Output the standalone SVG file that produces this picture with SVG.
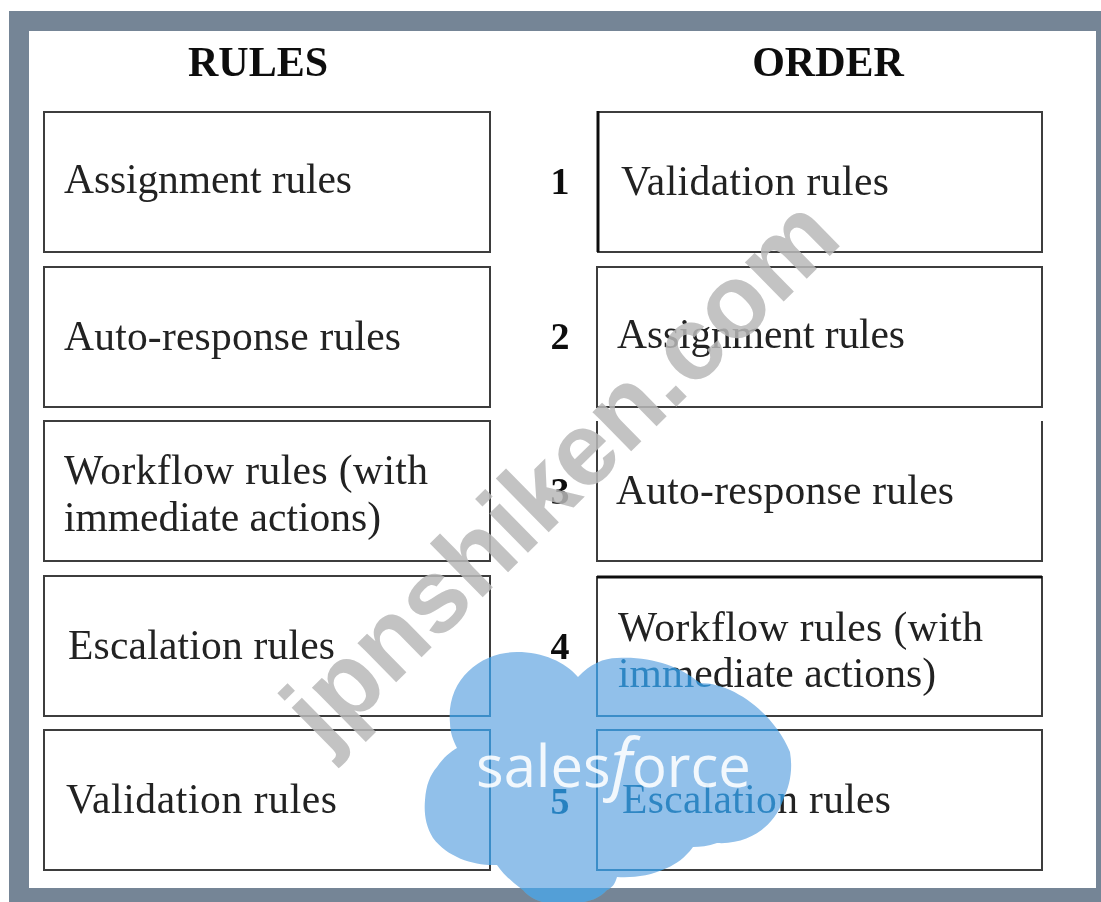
<svg xmlns="http://www.w3.org/2000/svg" width="1101" height="902" viewBox="0 0 1101 902">
<style>
.box{fill:none;stroke:#3c3c3c;stroke-width:2}
.heavy{fill:none;stroke:#111;stroke-width:3}
.t{font-family:"Liberation Serif","Times New Roman",serif;font-size:41.5px;fill:#222}
.h{font-family:"Liberation Serif","Times New Roman",serif;font-size:42px;font-weight:bold;fill:#111}
.n{font-family:"Liberation Serif","Times New Roman",serif;font-size:38px;font-weight:bold;fill:#111}
</style>
<defs>
<filter id="soft" x="0" y="0" width="100%" height="100%"><feGaussianBlur stdDeviation="0.55"/></filter>
<path id="cloud" d="M450 723 C446 680 480 652 517 652 C543 652 565 662 578 677 C590 664 604 658 617 658 C650 656 680 666 700 683 C735 683 775 715 790 752 C793 770 790 785 783 800 C775 825 750 845 717 843 C708 846 700 847 693 847 C685 858 676 864 667 868 C650 876 633 878 617 877 C615 884 612 888 607 890 C600 898 590 902 575 903 L545 903 C535 900 528 896 523 890 C512 882 503 874 497 865 C475 866 448 858 433 838 C425 825 424 812 425 800 C426 785 430 775 437 767 C443 758 450 752 457 748 C453 740 450 732 450 723Z"/>
</defs>
<g filter="url(#soft)">
<rect width="1101" height="902" fill="#fff"/>
<path fill-rule="evenodd" d="M9 11H1101V902H9Z M29 31V888H1096V31Z" fill="#748596"/>
<text class="h" x="258" y="76" text-anchor="middle">RULES</text>
<text class="h" x="828" y="76" text-anchor="middle">ORDER</text>
<g id="rule-1"><rect class="box" x="44" y="112" width="446" height="140"/><text class="t" x="64" y="193" textLength="288">Assignment rules</text></g>
<g id="rule-2"><rect class="box" x="44" y="267" width="446" height="140"/><text class="t" x="64" y="350" textLength="337">Auto-response rules</text></g>
<g id="rule-3"><rect class="box" x="44" y="421" width="446" height="140"/><text class="t" x="64" y="484" textLength="364">Workflow rules (with</text><text class="t" x="64" y="531" textLength="317">immediate actions)</text></g>
<g id="rule-4"><rect class="box" x="44" y="576" width="446" height="140"/><text class="t" x="68" y="659" textLength="267">Escalation rules</text></g>
<g id="rule-5"><rect class="box" x="44" y="730" width="446" height="140"/><text class="t" x="66" y="813" textLength="271">Validation rules</text></g>
<g id="order-1"><rect class="box" x="598" y="112" width="444" height="140"/><path class="heavy" d="M598 111V252"/><text class="n" x="560" y="194" text-anchor="middle">1</text><text class="t" x="621" y="195" textLength="268">Validation rules</text></g>
<g id="order-2"><rect class="box" x="597" y="267" width="445" height="140"/><text class="n" x="560" y="349" text-anchor="middle">2</text><text class="t" x="617" y="348" textLength="288">Assignment rules</text></g>
<g id="order-3"><path class="box" d="M597 421V561H1042V421"/><text class="n" x="560" y="504" text-anchor="middle">3</text><text class="t" x="616" y="504" textLength="338">Auto-response rules</text></g>
<g id="order-4"><rect class="box" x="597" y="577" width="445" height="139"/><path class="heavy" d="M597 577H1042"/><text class="n" x="560" y="659" text-anchor="middle">4</text><text class="t" x="618" y="641" textLength="365">Workflow rules (with</text><text class="t" x="618" y="687" textLength="318">immediate actions)</text></g>
<g id="order-5"><rect class="box" x="597" y="730" width="445" height="140"/><text class="n" x="560" y="814" text-anchor="middle">5</text><text class="t" x="622" y="813" textLength="269">Escalation rules</text></g>
<g id="watermark"><text transform="translate(325 752) rotate(-44.5)" font-family="'Liberation Sans',Arial,sans-serif" font-weight="bold" font-size="104" fill="#b8b8b8" fill-opacity="0.85">jpnshiken.com</text></g>
<g id="salesforce-logo">
<use href="#cloud" fill="#35a6cf" style="mix-blend-mode:screen"/>
<use href="#cloud" fill="#91c0ea" style="mix-blend-mode:multiply"/>
<text x="476" y="787" font-family="'Open Sans','Liberation Sans',sans-serif" font-size="58" fill="#fff" fill-opacity="0.88">sales<tspan font-style="italic" font-size="68">f</tspan>orce</text>
</g>
</g>
</svg>
